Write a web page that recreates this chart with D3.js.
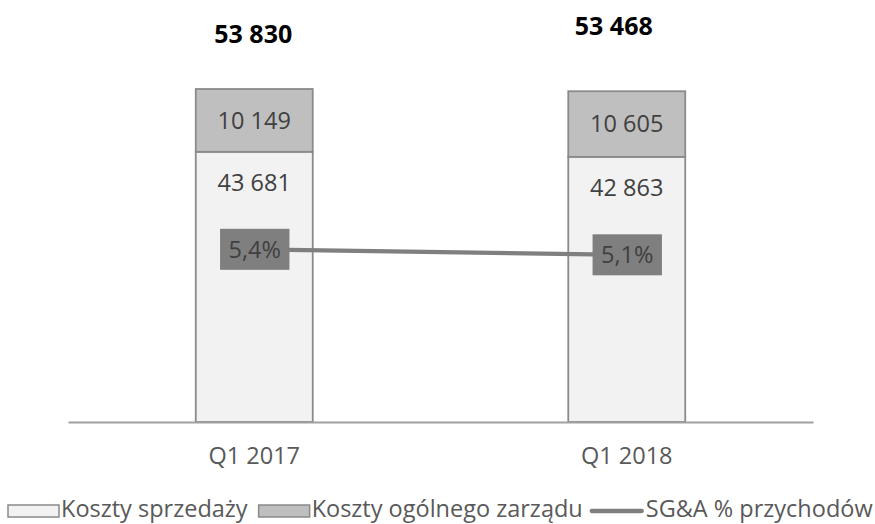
<!DOCTYPE html>
<html>
<head>
<meta charset="utf-8">
<script src="https://cdn.jsdelivr.net/npm/d3@7"></script>
<style>
  html, body { margin: 0; padding: 0; background: #ffffff; }
  svg { display: block; font-family: "Open Sans", "DejaVu Sans", sans-serif; }
</style>
</head>
<body>
<svg id="chart" width="875" height="524"></svg>
<script>
// ---- data ----
const categories = ["Q1 2017", "Q1 2018"];
const kosztySprzedazy = [43681, 42863];
const kosztyZarzadu = [10149, 10605];
const totals = [53830, 53468];
const sgaPct = [5.4, 5.1];
const seriesNames = ["Koszty sprzedaży", "Koszty ogólnego zarządu", "SG&A % przychodów"];

const fmt = v => d3.format(",")(v).replace(/,/g, " ");
const fmtPct = v => d3.format(".1f")(v).replace(".", ",") + "%";

// ---- layout ----
const W = 875, H = 524;
const svg = d3.select("#chart");
const FS = 23.5;

const x = d3.scaleBand().domain(categories).range([68, 813]).padding(0);
const barW = x.bandwidth() * 0.314;
const y = d3.scaleLinear().domain([0, 60000]).range([422, 422 - 60000 * 0.006186]);
const y2 = d3.scaleLinear().domain([0, 19]).range([348.3, 348.3 - 19 * 18.33]);
const cx = c => x(c) + x.bandwidth() / 2;

// bars: bottom segment
const g = svg.append("g");
g.selectAll("rect.sprz").data(categories).join("rect")
  .attr("class", "sprz")
  .attr("x", c => cx(c) - barW / 2)
  .attr("width", barW)
  .attr("y", (c, i) => y(kosztySprzedazy[i]))
  .attr("height", (c, i) => y(0) - y(kosztySprzedazy[i]))
  .attr("fill", "#f2f2f2").attr("stroke", "#8a8a8a").attr("stroke-width", 1.8);

g.selectAll("rect.zarz").data(categories).join("rect")
  .attr("class", "zarz")
  .attr("x", c => cx(c) - barW / 2)
  .attr("width", barW)
  .attr("y", (c, i) => y(kosztySprzedazy[i] + kosztyZarzadu[i]))
  .attr("height", (c, i) => y(kosztySprzedazy[i]) - y(kosztySprzedazy[i] + kosztyZarzadu[i]))
  .attr("fill", "#bfbfbf").attr("stroke", "#8a8a8a").attr("stroke-width", 1.8);

// axis line
const xAxis = d3.axisBottom(x).tickSize(0).tickPadding(20);
const ax = svg.append("g").attr("transform", `translate(0,${y(0)})`).call(xAxis);
ax.select(".domain").attr("stroke", "#a0a0a0").attr("stroke-width", 2);
ax.selectAll(".tick text")
  .attr("font-size", FS).attr("fill", "#595959")
  .attr("font-family", "'Open Sans', sans-serif")
  .attr("dy", null).attr("y", 42.3);

// segment labels
g.selectAll("text.lz").data(categories).join("text")
  .attr("class", "lz")
  .attr("x", cx)
  .attr("y", (c, i) => (y(kosztySprzedazy[i]) + y(kosztySprzedazy[i] + kosztyZarzadu[i])) / 2)
  .attr("dy", "0.35em")
  .attr("text-anchor", "middle").attr("font-size", FS).attr("fill", "#404040")
  .text((c, i) => fmt(kosztyZarzadu[i]));

g.selectAll("text.ls").data(categories).join("text")
  .attr("class", "ls")
  .attr("x", cx)
  .attr("y", (c, i) => y(kosztySprzedazy[i]) + 31)
  .attr("dy", "0.35em")
  .attr("text-anchor", "middle").attr("font-size", FS).attr("fill", "#404040")
  .text((c, i) => fmt(kosztySprzedazy[i]));

// total labels (manually offset like the original)
const totalOffsets = [[-1, -46], [-13, -56]];
g.selectAll("text.tot").data(categories).join("text")
  .attr("class", "tot")
  .attr("x", (c, i) => cx(c) + totalOffsets[i][0])
  .attr("y", (c, i) => y(totals[i]) + totalOffsets[i][1])
  .attr("text-anchor", "middle").attr("font-size", 25).attr("font-weight", "bold").attr("fill", "#000000")
  .text((c, i) => fmt(totals[i]));

// line
const line = d3.line().x((d, i) => cx(categories[i])).y(d => y2(d));
svg.append("path").datum(sgaPct)
  .attr("d", line).attr("fill", "none")
  .attr("stroke", "#7f7f7f").attr("stroke-width", 4.3);

// line labels in boxes
const lbl = svg.selectAll("g.pl").data(sgaPct).join("g").attr("class", "pl")
  .attr("transform", (d, i) => `translate(${cx(categories[i]) + 0.5},${y2(d)})`);
lbl.append("rect").attr("fill", "#7f7f7f");
lbl.append("text")
  .attr("text-anchor", "middle").attr("dy", "0.35em")
  .attr("font-size", FS).attr("fill", "#404040")
  .text(d => fmtPct(d));
lbl.each(function () {
  const t = d3.select(this).select("text").node();
  const w = t.getComputedTextLength() + 17;
  d3.select(this).select("rect").attr("x", -w / 2).attr("y", -20.5).attr("width", w).attr("height", 41);
});

// legend
const leg = svg.append("g");
let lx = 7;
const ly = 517;
seriesNames.forEach((name, i) => {
  if (i < 2) {
    leg.append("rect").attr("x", lx + 1).attr("y", ly - 12).attr("width", 51).attr("height", 12)
      .attr("fill", i === 0 ? "#f2f2f2" : "#bfbfbf").attr("stroke", "#8a8a8a").attr("stroke-width", 1.5);
    lx += 54;
  } else {
    leg.append("line").attr("x1", lx + 2).attr("x2", lx + 52).attr("y1", ly - 6).attr("y2", ly - 6)
      .attr("stroke", "#7f7f7f").attr("stroke-width", 4.3).attr("stroke-linecap", "round");
    lx += 56;
  }
  const t = leg.append("text").attr("x", lx).attr("y", ly)
    .attr("font-size", FS).attr("fill", "#595959").text(name);
  lx += t.node().getComputedTextLength() + (i === 0 ? 10 : 7);
});
</script>
</body>
</html>
